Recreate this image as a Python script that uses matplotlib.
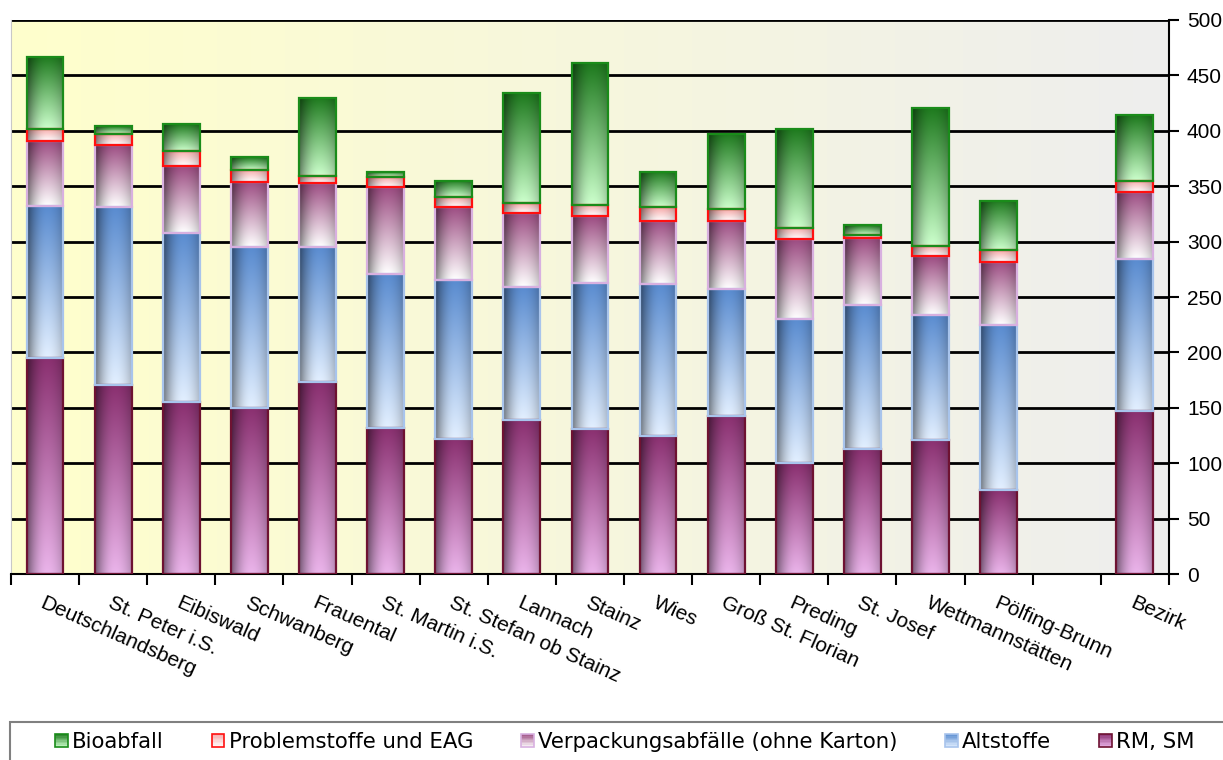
import numpy as np
import matplotlib
matplotlib.use('Agg')
import matplotlib.pyplot as plt
from matplotlib.patches import Rectangle
from matplotlib.legend_handler import HandlerBase
from matplotlib.colors import to_rgb

# --- Data ---
CATEGORIES = ['Deutschlandsberg', 'St. Peter i.S.', 'Eibiswald', 'Schwanberg', 'Frauental',
              'St. Martin i.S.', 'St. Stefan ob Stainz', 'Lannach', 'Stainz', 'Wies',
              'Groß St. Florian', 'Preding', 'St. Josef', 'Wettmannstätten', 'Pölfing-Brunn',
              '', 'Bezirk']
RM_SM = [195, 171, 155, 150, 173, 132, 122, 139, 131, 125, 143, 100, 113, 121, 76, 0, 147]
ALTSTOFFE = [137, 160, 153, 145, 122, 139, 143, 120, 132, 137, 114, 130, 130, 113, 149, 0, 137]
VERPACKUNG = [59, 56, 60, 59, 58, 78, 66, 67, 60, 57, 62, 72, 60, 53, 57, 0, 61]
PROBLEMSTOFFE = [11, 10, 14, 11, 6, 9, 9, 9, 10, 12, 10, 10, 3, 9, 10, 0, 10]
BIOABFALL = [65, 7, 24, 11, 71, 5, 15, 99, 128, 32, 68, 90, 9, 125, 45, 0, 59]

SERIES_NAMES = ['RM, SM', 'Altstoffe', 'Verpackungsabfälle (ohne Karton)',
                'Problemstoffe und EAG', 'Bioabfall']
Y_TICKS = [0, 50, 100, 150, 200, 250, 300, 350, 400, 450, 500]

# --- Styles: (top colour, bottom colour, edge colour) per series ---
STYLES = [
    ('#8a3070', '#eab4ea', '#6e1232'),
    ('#5a8cd0', '#e2efff', '#a8c4ec'),
    ('#9c4c82', '#ffffff', '#d8b0e0'),
    ('#f6a8a8', '#ffffff', '#ff1010'),
    ('#1e7a1e', '#ccffcc', '#1a8c1a'),
]
BAR_WIDTH = 0.54


def shade(width=40):
    # darker left edge, slightly darker right edge (cylinder look)
    u = np.linspace(0, 1, width)
    return np.where(u < 0.55, 1 - 0.5 * ((0.55 - u) / 0.55) ** 2,
                    1 - 0.22 * ((u - 0.55) / 0.45) ** 2)


def segment_image(top, bottom, n=64, w=40):
    t = np.linspace(0, 1, n)[:, None, None]
    c = (1 - t) * np.array(to_rgb(top)) + t * np.array(to_rgb(bottom))
    img = c * shade(w)[None, :, None]
    return np.clip(img, 0, 1)


class GradientKey:
    def __init__(self, style):
        self.style = style


class GradientHandler(HandlerBase):
    # small square with vertical gradient, like the Excel legend keys
    def create_artists(self, legend, orig_handle, xdescent, ydescent, width, height,
                       fontsize, trans):
        top, bot, edge = orig_handle.style
        arts = []
        n = 10
        for k in range(n):
            t = k / (n - 1)
            c = (1 - t) * np.array(to_rgb(top)) + t * np.array(to_rgb(bot))
            arts.append(Rectangle((-xdescent, -ydescent + height * (1 - (k + 1) / n)),
                                  width, height / n, facecolor=c, edgecolor='none',
                                  transform=trans))
        arts.append(Rectangle((-xdescent, -ydescent), width, height, fill=False,
                              edgecolor=edge, linewidth=1.2, transform=trans))
        return arts


fig = plt.figure(figsize=(12.23, 7.6), dpi=100)
ax = fig.add_axes([0.009, 0.2447, 0.9468, 0.7290])

# background gradient: light yellow -> light gray
bg = np.linspace(0, 1, 256)[None, :, None]
bg_img = (1 - bg) * np.array(to_rgb('#ffffcc')) + bg * np.array(to_rgb('#eeeeee'))
ax.imshow(bg_img, extent=(0, 1, 0, 1), transform=ax.transAxes, aspect='auto',
          zorder=0, interpolation='bilinear')

stack = [RM_SM, ALTSTOFFE, VERPACKUNG, PROBLEMSTOFFE, BIOABFALL]
bottoms = np.zeros(len(CATEGORIES))
for values, (top_c, bot_c, edge_c) in zip(stack, STYLES):
    vals = np.array(values, dtype=float)
    for i, v in enumerate(vals):
        if v <= 0:
            continue
        x0, x1 = i - BAR_WIDTH / 2, i + BAR_WIDTH / 2
        y0, y1 = bottoms[i], bottoms[i] + v
        ax.imshow(segment_image(top_c, bot_c), extent=(x0, x1, y0, y1), origin='upper',
                  aspect='auto', interpolation='bilinear', zorder=2)
        ax.add_patch(Rectangle((x0, y0), BAR_WIDTH, v, fill=False, edgecolor=edge_c,
                               linewidth=1.6, zorder=3))
    bottoms += vals

ax.set_xlim(-0.5, len(CATEGORIES) - 0.5)
ax.set_ylim(0, 500)

# grid lines
ax.set_yticks(Y_TICKS)
ax.yaxis.grid(True, color='black', linewidth=2)
ax.set_axisbelow(True)
for gl in ax.get_ygridlines():
    gl.set_zorder(1)

# y axis on the right
ax.yaxis.tick_right()
ax.tick_params(axis='y', which='major', direction='out', length=7, width=1.5,
               labelsize=15, pad=6)
for lab in ax.get_yticklabels():
    lab.set_fontfamily('Liberation Sans')

# x ticks between categories, labels at centres
ax.set_xticks(np.arange(len(CATEGORIES) + 1) - 0.5)
ax.set_xticklabels([])
ax.tick_params(axis='x', which='major', direction='out', length=8, width=1.5)
ax.set_xticks(np.arange(len(CATEGORIES)), minor=True)
ax.set_xticklabels(CATEGORIES, minor=True, rotation=-24, ha='left', va='top',
                   rotation_mode='anchor', fontsize=15, family='Liberation Sans')
ax.tick_params(axis='x', which='minor', length=0, pad=14)

ax.spines['top'].set_visible(False)
ax.spines['left'].set_color('#c8c8c8')
ax.spines['right'].set_linewidth(1.5)
ax.spines['bottom'].set_linewidth(1.5)

# legend with frame along the bottom of the figure
frame = Rectangle((10 / 1223, -0.02), 1.0, 0.02 + (760 - 722) / 760,
                  transform=fig.transFigure, fill=False, edgecolor='#808080',
                  linewidth=1.5)
fig.patches.append(frame)

legend_order = [4, 3, 2, 1, 0]
keys = [GradientKey(STYLES[i]) for i in legend_order]
fig.legend(keys, [SERIES_NAMES[i] for i in legend_order],
           handler_map={GradientKey: GradientHandler()},
           loc='center', bbox_to_anchor=(0.511, 0.0237), ncol=5, frameon=False,
           handlelength=0.6, handleheight=0.6, handletextpad=0.2, columnspacing=2.25,
           prop={'family': 'DejaVu Sans', 'size': 15.3})

fig.savefig('out.png', dpi=100)
